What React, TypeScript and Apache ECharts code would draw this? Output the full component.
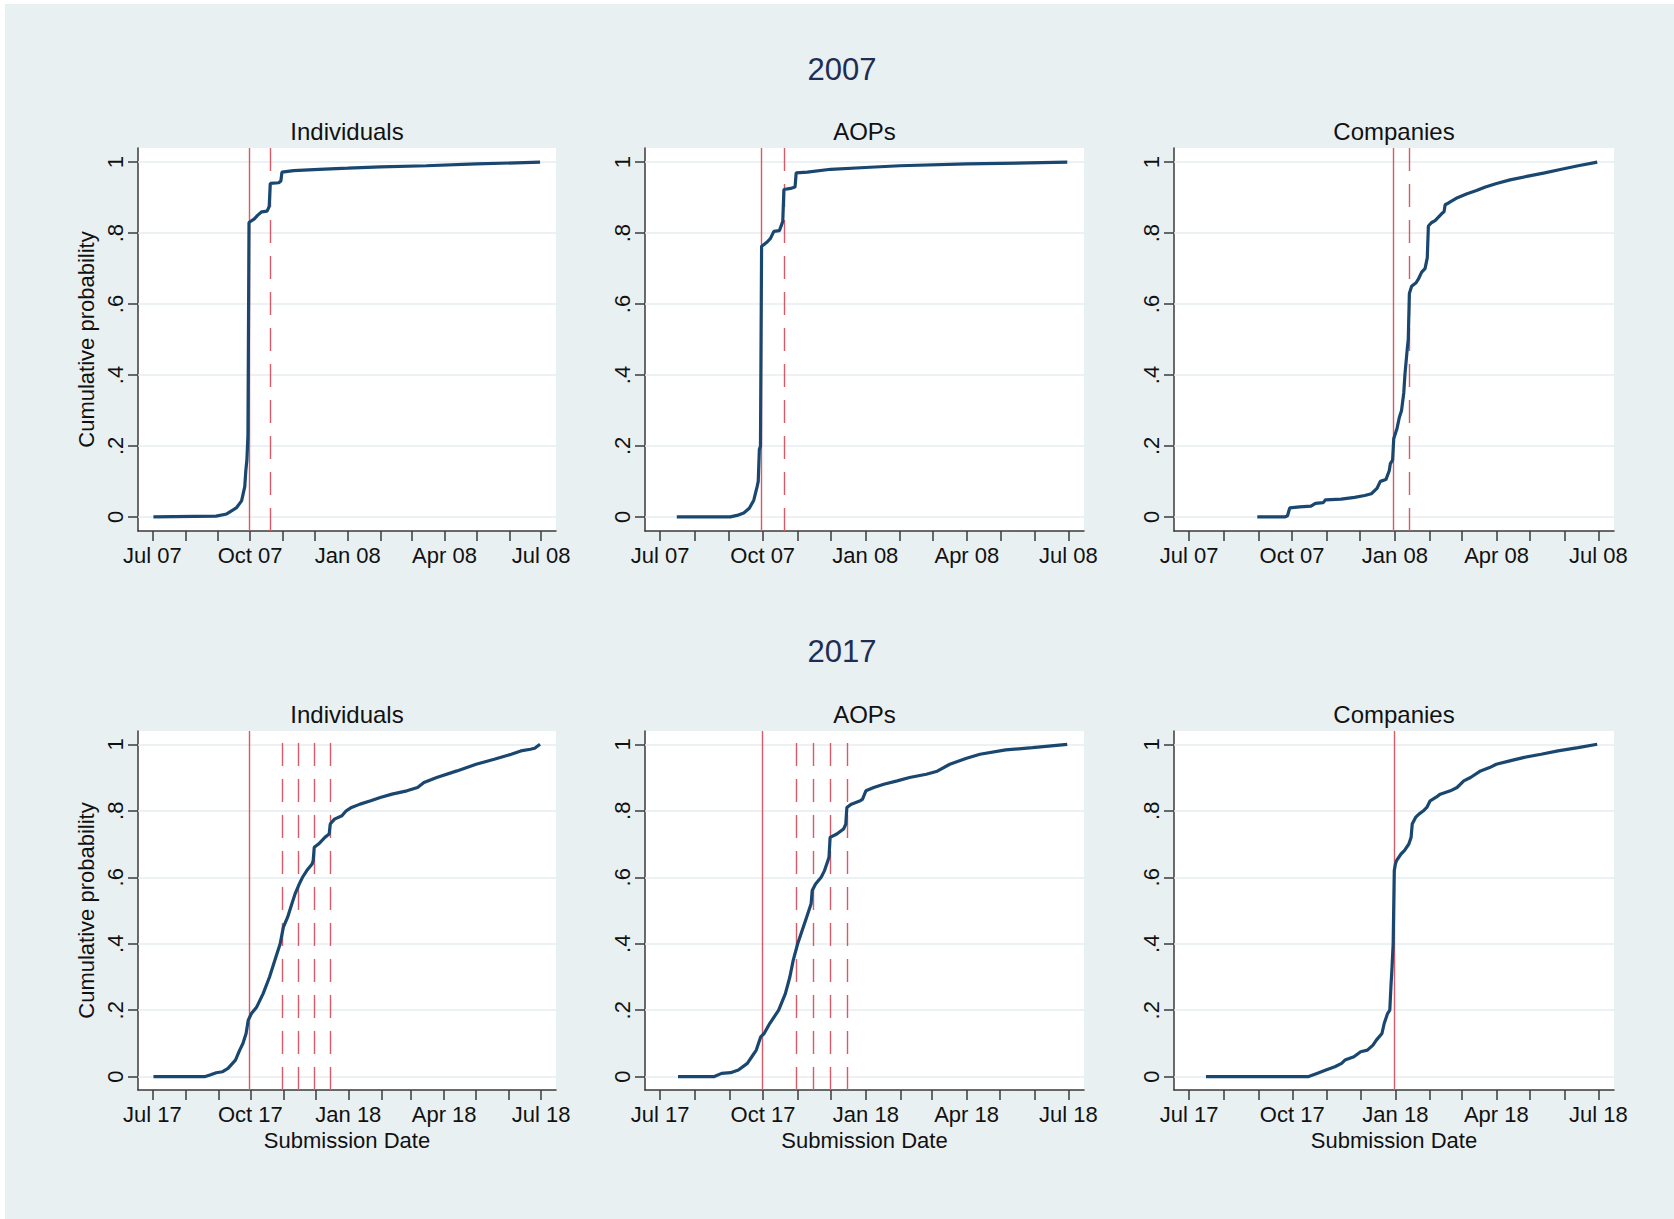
import React, { useEffect, useRef } from "react";
import * as echarts from "echarts";

const DAY = 86400000;
const ts = (s: string) => Date.parse(s + "T00:00:00Z");
const FONT = "'Liberation Sans', Arial, Helvetica, sans-serif";

// ---------- 2007 ----------
const ind07Dates = ["2007-07-02","2007-08-30","2007-09-09","2007-09-18","2007-09-23","2007-09-26","2007-09-27","2007-09-28","2007-09-29","2007-09-30","2007-10-01","2007-10-05","2007-10-08","2007-10-12","2007-10-17","2007-10-19","2007-10-20","2007-10-28","2007-10-30","2007-10-31","2007-11-11","2007-12-05","2008-01-01","2008-02-01","2008-03-15","2008-05-01","2008-06-30"];
const ind07Values = [0,0.002,0.008,0.025,0.045,0.085,0.13,0.16,0.23,0.83,0.832,0.84,0.85,0.86,0.862,0.875,0.94,0.942,0.947,0.972,0.976,0.98,0.983,0.987,0.99,0.995,1];

const aop07Dates = ["2007-07-16","2007-09-02","2007-09-08","2007-09-14","2007-09-19","2007-09-23","2007-09-26","2007-09-27","2007-09-28","2007-09-29","2007-09-30","2007-10-01","2007-10-05","2007-10-08","2007-10-11","2007-10-16","2007-10-19","2007-10-20","2007-10-26","2007-10-30","2007-10-31","2007-11-10","2007-12-01","2008-01-01","2008-02-01","2008-04-01","2008-06-30"];
const aop07Values = [0,0,0.004,0.011,0.024,0.047,0.085,0.1,0.19,0.2,0.763,0.765,0.775,0.785,0.805,0.807,0.833,0.923,0.926,0.93,0.97,0.972,0.98,0.985,0.99,0.995,1];

const comp07Dates = ["2007-08-31","2007-09-25","2007-09-27","2007-09-29","2007-10-08","2007-10-18","2007-10-22","2007-10-29","2007-10-31","2007-11-14","2007-11-26","2007-12-05","2007-12-11","2007-12-16","2007-12-19","2007-12-24","2007-12-27","2007-12-28","2007-12-30","2007-12-31","2008-01-03","2008-01-05","2008-01-07","2008-01-09","2008-01-10","2008-01-12","2008-01-13","2008-01-14","2008-01-16","2008-01-20","2008-01-22","2008-01-25","2008-01-28","2008-01-30","2008-01-31","2008-02-03","2008-02-06","2008-02-09","2008-02-12","2008-02-14","2008-02-15","2008-02-18","2008-02-26","2008-03-05","2008-03-14","2008-03-22","2008-04-01","2008-04-13","2008-04-28","2008-05-14","2008-05-29","2008-06-13","2008-06-30"];
const comp07Values = [0,0,0.003,0.025,0.028,0.03,0.038,0.04,0.048,0.05,0.055,0.06,0.065,0.08,0.1,0.105,0.13,0.15,0.16,0.22,0.25,0.28,0.3,0.35,0.4,0.47,0.5,0.63,0.65,0.66,0.67,0.69,0.7,0.73,0.82,0.83,0.835,0.845,0.855,0.86,0.88,0.885,0.9,0.91,0.92,0.93,0.94,0.95,0.96,0.97,0.98,0.99,1];

// ---------- 2017 ----------
const ind17Dates = ["2017-07-02","2017-08-19","2017-08-24","2017-08-30","2017-09-05","2017-09-10","2017-09-17","2017-09-21","2017-09-24","2017-09-27","2017-09-29","2017-10-02","2017-10-07","2017-10-13","2017-10-19","2017-10-24","2017-10-29","2017-11-01","2017-11-05","2017-11-09","2017-11-12","2017-11-16","2017-11-19","2017-11-23","2017-11-28","2017-11-29","2017-11-30","2017-12-04","2017-12-10","2017-12-14","2017-12-15","2017-12-19","2017-12-26","2017-12-30","2018-01-04","2018-01-12","2018-01-22","2018-01-31","2018-02-11","2018-02-25","2018-03-07","2018-03-13","2018-03-25","2018-04-13","2018-05-01","2018-05-18","2018-06-03","2018-06-12","2018-06-21","2018-06-25","2018-06-30"];
const ind17Values = [0,0,0.005,0.012,0.015,0.025,0.05,0.08,0.1,0.13,0.17,0.19,0.21,0.25,0.3,0.35,0.4,0.45,0.48,0.52,0.55,0.58,0.6,0.62,0.64,0.65,0.69,0.7,0.72,0.73,0.76,0.775,0.785,0.8,0.81,0.82,0.83,0.84,0.85,0.86,0.87,0.885,0.9,0.92,0.94,0.955,0.97,0.98,0.985,0.988,1];

const aop17Dates = ["2017-07-17","2017-08-18","2017-08-25","2017-09-02","2017-09-09","2017-09-17","2017-09-21","2017-09-25","2017-09-29","2017-10-02","2017-10-07","2017-10-15","2017-10-21","2017-10-25","2017-10-28","2017-11-01","2017-11-05","2017-11-09","2017-11-13","2017-11-14","2017-11-17","2017-11-22","2017-11-25","2017-11-28","2017-11-29","2017-11-30","2017-12-06","2017-12-12","2017-12-14","2017-12-15","2017-12-19","2017-12-27","2017-12-29","2018-01-01","2018-01-08","2018-01-17","2018-01-29","2018-02-09","2018-02-24","2018-03-05","2018-03-17","2018-04-01","2018-04-13","2018-05-06","2018-05-30","2018-06-30"];
const aop17Values = [0,0,0.01,0.012,0.02,0.04,0.06,0.08,0.12,0.13,0.16,0.2,0.25,0.3,0.35,0.4,0.44,0.48,0.52,0.56,0.58,0.6,0.62,0.65,0.66,0.72,0.73,0.745,0.76,0.81,0.82,0.83,0.835,0.86,0.87,0.88,0.89,0.9,0.91,0.918,0.94,0.958,0.97,0.983,0.99,1];

const comp17Dates = ["2017-07-16","2017-10-15","2017-10-23","2017-10-31","2017-11-08","2017-11-14","2017-11-17","2017-11-25","2017-12-01","2017-12-07","2017-12-12","2017-12-15","2017-12-20","2017-12-22","2017-12-25","2017-12-27","2017-12-28","2017-12-29","2017-12-30","2017-12-31","2018-01-01","2018-01-02","2018-01-06","2018-01-09","2018-01-13","2018-01-15","2018-01-16","2018-01-19","2018-01-22","2018-01-26","2018-01-29","2018-02-01","2018-02-06","2018-02-10","2018-02-19","2018-02-25","2018-03-03","2018-03-09","2018-03-18","2018-03-26","2018-04-01","2018-04-13","2018-04-25","2018-05-11","2018-05-26","2018-06-13","2018-06-30"];
const comp17Values = [0,0,0.01,0.02,0.03,0.04,0.05,0.06,0.075,0.08,0.095,0.11,0.13,0.16,0.19,0.2,0.27,0.33,0.4,0.62,0.64,0.65,0.67,0.68,0.7,0.72,0.76,0.78,0.79,0.8,0.81,0.83,0.84,0.85,0.86,0.87,0.89,0.9,0.92,0.93,0.94,0.95,0.96,0.97,0.98,0.99,1];

// ---------- deadlines (red reference lines) ----------
const ind07Solid = ["2007-09-30"];
const ind07Dashed = ["2007-10-20"];
const aop07Solid = ["2007-09-30"];
const aop07Dashed = ["2007-10-20"];
const comp07Solid = ["2007-12-31"];
const comp07Dashed = ["2008-01-14"];
const ind17Solid = ["2017-09-30"];
const ind17Dashed = ["2017-10-31", "2017-11-15", "2017-11-30", "2017-12-15"];
const aop17Solid = ["2017-09-30"];
const aop17Dashed = ["2017-10-31", "2017-11-15", "2017-11-30", "2017-12-15"];
const comp17Solid = ["2017-12-31"];
const comp17Dashed: string[] = [];

// ---------- ticks ----------
const yTickValues = [0, 0.2, 0.4, 0.6, 0.8, 1];
const yTickLabels = ["0", ".2", ".4", ".6", ".8", "1"];
const xLabelDates07 = ["2007-07-01", "2007-10-01", "2008-01-01", "2008-04-01", "2008-07-01"];
const xLabels07 = ["Jul 07", "Oct 07", "Jan 08", "Apr 08", "Jul 08"];
const monthTicks07 = ["2007-07-01","2007-08-01","2007-09-01","2007-10-01","2007-11-01","2007-12-01","2008-01-01","2008-02-01","2008-03-01","2008-04-01","2008-05-01","2008-06-01","2008-07-01"];
const xLabelDates17 = ["2017-07-01", "2017-10-01", "2018-01-01", "2018-04-01", "2018-07-01"];
const xLabels17 = ["Jul 17", "Oct 17", "Jan 18", "Apr 18", "Jul 18"];
const monthTicks17 = ["2017-07-01","2017-08-01","2017-09-01","2017-10-01","2017-11-01","2017-12-01","2018-01-01","2018-02-01","2018-03-01","2018-04-01","2018-05-01","2018-06-01","2018-07-01"];

const rowTitles = ["2007", "2017"];
const panelTitles = ["Individuals", "AOPs", "Companies"];
const yTitle = "Cumulative probability";
const xTitle = "Submission Date";

// ---------- layout ----------
const cols = [
  { left: 138, width: 418 },
  { left: 645, width: 439 },
  { left: 1174, width: 440 },
];
const rows = [
  { top: 148, height: 383, titleY: 69, panelTitleY: 131 },
  { top: 731, height: 359, titleY: 651, panelTitleY: 714 },
];

const yearAxes = [
  { months: monthTicks07, quarters: xLabelDates07, labels: xLabels07 },
  { months: monthTicks17, quarters: xLabelDates17, labels: xLabels17 },
];

const panels = [
  { row: 0, col: 0, dates: ind07Dates, values: ind07Values, solid: ind07Solid, dashed: ind07Dashed },
  { row: 0, col: 1, dates: aop07Dates, values: aop07Values, solid: aop07Solid, dashed: aop07Dashed },
  { row: 0, col: 2, dates: comp07Dates, values: comp07Values, solid: comp07Solid, dashed: comp07Dashed },
  { row: 1, col: 0, dates: ind17Dates, values: ind17Values, solid: ind17Solid, dashed: ind17Dashed },
  { row: 1, col: 1, dates: aop17Dates, values: aop17Values, solid: aop17Solid, dashed: aop17Dashed },
  { row: 1, col: 2, dates: comp17Dates, values: comp17Values, solid: comp17Solid, dashed: comp17Dashed },
];

const BG = "#e9f0f2";
const AXIS = "#3a3a3a";
const NAVY = "#1a476f";
const RED = "#d65a68";
const GRIDC = "#e6eef0";

function buildOption() {
  const grid: any[] = [];
  const xAxis: any[] = [];
  const yAxis: any[] = [];
  const series: any[] = [];

  panels.forEach((p, i) => {
    const c = cols[p.col];
    const r = rows[p.row];
    const ya = yearAxes[p.row];
    const qts = ya.quarters.map(ts);
    grid.push({
      left: c.left,
      top: r.top,
      width: c.width,
      height: r.height,
      show: true,
      backgroundColor: "#ffffff",
      borderWidth: 0,
      containLabel: false,
    });
    xAxis.push({
      type: "value",
      gridIndex: i,
      min: ts(ya.months[0]) - 13.5 * DAY,
      max: ts(ya.months[ya.months.length - 1]) + 14 * DAY,
      axisLine: { show: true, onZero: false, lineStyle: { color: AXIS, width: 1.5 } },
      axisTick: {
        show: true,
        inside: false,
        length: 10,
        customValues: ya.months.map(ts),
        lineStyle: { color: AXIS, width: 1.5 },
      },
      axisLabel: {
        show: true,
        customValues: qts,
        margin: 13,
        fontSize: 22,
        fontFamily: FONT,
        color: "#111",
        formatter: (v: number) => {
          const k = qts.findIndex((q) => Math.abs(q - v) < DAY);
          return k >= 0 ? ya.labels[k] : "";
        },
      },
      splitLine: { show: false },
      name: p.row === 1 ? xTitle : "",
      nameLocation: "middle",
      nameGap: 39,
      nameTextStyle: { fontSize: 22, fontFamily: FONT, color: "#111" },
    });
    yAxis.push({
      type: "value",
      gridIndex: i,
      min: -0.04,
      max: 1.04,
      axisLine: { show: true, onZero: false, lineStyle: { color: AXIS, width: 1.5 } },
      axisTick: {
        show: true,
        inside: false,
        length: 10,
        customValues: yTickValues,
        lineStyle: { color: AXIS, width: 1.5 },
      },
      axisLabel: {
        show: true,
        customValues: yTickValues,
        rotate: 90,
        margin: 12,
        fontSize: 22,
        fontFamily: FONT,
        color: "#111",
        formatter: (v: number) => {
          const k = yTickValues.findIndex((q) => Math.abs(q - v) < 1e-6);
          return k >= 0 ? yTickLabels[k] : "";
        },
      },
      splitLine: { show: false },
      name: p.col === 0 ? yTitle : "",
      nameLocation: "middle",
      nameGap: 41,
      nameRotate: 90,
      nameTextStyle: { fontSize: 22, fontFamily: FONT, color: "#111" },
    });

    // gridlines
    series.push({
      type: "line",
      xAxisIndex: i,
      yAxisIndex: i,
      data: [],
      silent: true,
      z: 1,
      markLine: {
        silent: true,
        z: 1,
        symbol: ["none", "none"],
        label: { show: false },
        emphasis: { disabled: true },
        lineStyle: { color: GRIDC, width: 1.5, type: "solid" },
        data: yTickValues.map((v) => ({ yAxis: v })),
      },
    });
    // deadline lines
    series.push({
      type: "line",
      xAxisIndex: i,
      yAxisIndex: i,
      data: [],
      silent: true,
      z: 2,
      markLine: {
        silent: true,
        z: 2,
        symbol: ["none", "none"],
        label: { show: false },
        emphasis: { disabled: true },
        data: [
          ...p.solid.map((d) => ({ xAxis: ts(d), lineStyle: { color: RED, width: 1.4, type: "solid" } })),
          ...p.dashed.map((d) => ({ xAxis: ts(d), lineStyle: { color: RED, width: 1.4, type: [23, 13] } })),
        ],
      },
    });
    // ECDF curve
    series.push({
      type: "line",
      xAxisIndex: i,
      yAxisIndex: i,
      z: 3,
      showSymbol: false,
      symbol: "none",
      silent: true,
      lineStyle: { color: NAVY, width: 3.2 },
      data: p.dates.map((d, k) => [ts(d), p.values[k]]),
    });
  });

  const graphic: any[] = [
    { type: "rect", shape: { x: 0, y: 0, width: 5, height: 1219 }, style: { fill: "#ffffff" }, silent: true },
    { type: "rect", shape: { x: 0, y: 0, width: 1674, height: 4 }, style: { fill: "#ffffff" }, silent: true },
  ];
  rows.forEach((r, ri) => {
    graphic.push({
      type: "text",
      x: 842,
      y: r.titleY,
      z: 100,
      style: {
        text: rowTitles[ri],
        fontSize: 31,
        fontFamily: FONT,
        fill: "#1f2d55",
        align: "center",
        verticalAlign: "middle",
        textAlign: "center",
        textVerticalAlign: "middle",
      },
    });
    cols.forEach((c, ci) => {
      graphic.push({
        type: "text",
        x: c.left + c.width / 2,
        y: r.panelTitleY,
        z: 100,
        style: {
          text: panelTitles[ci],
          fontSize: 24,
          fontFamily: FONT,
          fill: "#111",
          align: "center",
          verticalAlign: "middle",
          textAlign: "center",
          textVerticalAlign: "middle",
        },
      });
    });
  });

  return {
    animation: false,
    backgroundColor: BG,
    grid,
    xAxis,
    yAxis,
    series,
    graphic,
  };
}

export default function App() {
  const ref = useRef<HTMLDivElement>(null);
  useEffect(() => {
    if (!ref.current) return;
    const chart = echarts.init(ref.current, null, { renderer: "svg" });
    chart.setOption(buildOption() as any);
    return () => chart.dispose();
  }, []);
  return (
    <div
      ref={ref}
      style={{ position: "absolute", left: 0, top: 0, width: 1674, height: 1219 }}
    />
  );
}
